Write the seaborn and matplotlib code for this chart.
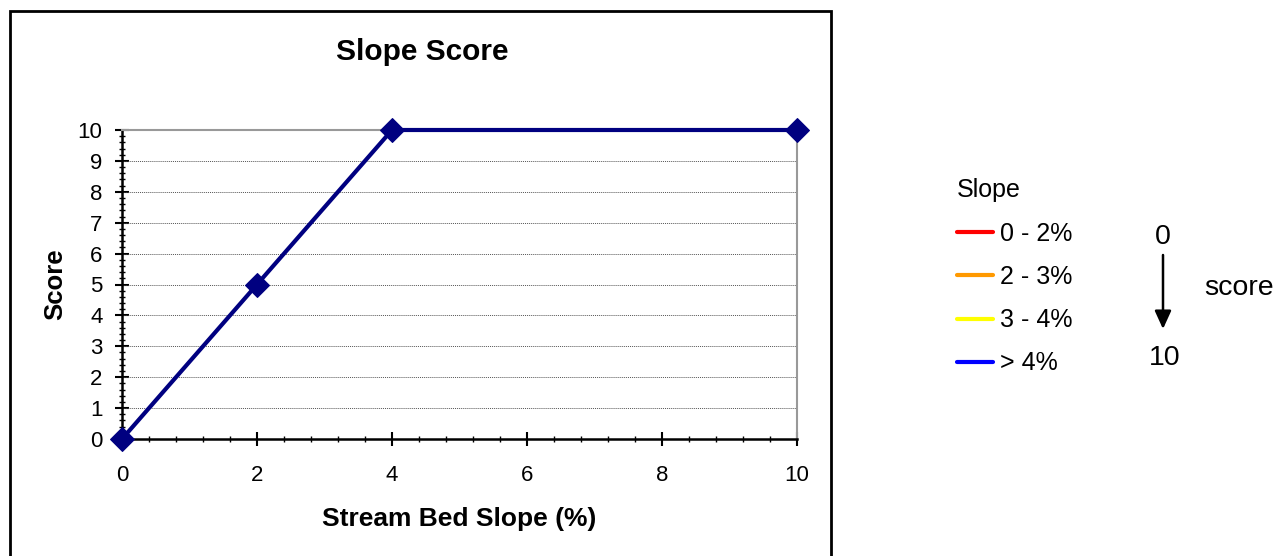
import matplotlib
matplotlib.use("Agg")
import matplotlib.pyplot as plt
import seaborn as sns
import pandas as pd
import numpy as np
from matplotlib.lines import Line2D
from matplotlib.patches import Rectangle
from matplotlib.ticker import MultipleLocator

# ---- data ----
slope_pct = [0, 2, 4, 10]
score = [0, 5, 10, 10]
legend_labels = ["0 - 2%", "2 - 3%", "3 - 4%", "> 4%"]
legend_colors = ["#FF0000", "#FF9900", "#FFFF00", "#0000FF"]
x_ticks = [0, 2, 4, 6, 8, 10]
y_ticks = list(range(0, 11))

sns.set_theme(style="white")
plt.rcParams['font.family'] = ['Liberation Sans', 'DejaVu Sans']
for k in ["text.color", "axes.labelcolor", "xtick.color", "ytick.color"]:
    plt.rcParams[k] = "black"

W, H = 1274, 556
fig = plt.figure(figsize=(W / 100, H / 100), dpi=100)
ax = fig.add_axes([122 / W, 1 - 439 / H, (797 - 122) / W, (439 - 130) / H])

df = pd.DataFrame({"slope": slope_pct, "score": score})
sns.lineplot(data=df, x="slope", y="score", ax=ax, color="#000080",
             linewidth=3, marker="D", markersize=12, markeredgecolor="#000080",
             clip_on=False, zorder=5)

ax.set_xlim(0, 10)
ax.set_ylim(0, 10)
ax.set_xticks(x_ticks)
ax.set_yticks(y_ticks)
ax.xaxis.set_minor_locator(MultipleLocator(0.4))
ax.yaxis.set_minor_locator(MultipleLocator(0.2))
ax.tick_params(axis="both", which="major", direction="inout", length=10, width=1.5,
               color="black", labelsize=16, bottom=True, left=True)
ax.tick_params(axis="both", which="minor", direction="inout", length=5, width=1,
               color="black", bottom=True, left=True)
ax.tick_params(axis="x", which="major", pad=14)
ax.tick_params(axis="y", which="major", pad=9)

for y in range(1, 10):
    ax.axhline(y, color="#555555", linestyle=(0, (1, 1)), linewidth=0.7, zorder=1)

for s in ["left", "bottom"]:
    ax.spines[s].set_color("black")
    ax.spines[s].set_linewidth(1.8)
for s in ["top", "right"]:
    ax.spines[s].set_color("#999999")
    ax.spines[s].set_linewidth(1.5)

ax.set_xlabel("Stream Bed Slope (%)", fontsize=19, fontweight="bold", labelpad=15)
ax.set_ylabel("Score", fontsize=18.5, fontweight="bold", labelpad=7.5)
fig.text(422 / W, 1 - 52 / H, "Slope Score", fontsize=21.5, fontweight="bold",
         ha="center", va="center")

# chart-area border
fig.patches.append(Rectangle((9.5 / W, -0.02), (831 - 9.5) / W, 1 - 11 / H + 0.02,
                             transform=fig.transFigure, fill=False,
                             edgecolor="black", linewidth=2))

# legend
handles = [Line2D([0], [0], color=c, linewidth=3) for c in legend_colors]
leg = fig.legend(handles, legend_labels, title="Slope", loc="upper left",
                 bbox_to_anchor=(934 / W, 1 - 156 / H), frameon=False,
                 fontsize=18, title_fontsize=18, handlelength=1.45,
                 handletextpad=0.28, labelspacing=0.77, alignment="left")

# score arrow
fig.text(1163 / W, 1 - 237 / H, "0", fontsize=20.5, ha="center", va="center")
fig.text(1165 / W, 1 - 358 / H, "10", fontsize=20.5, ha="center", va="center")
fig.text(1239 / W, 1 - 288 / H, "score", fontsize=20.5, ha="center", va="center")
ax.annotate("", xy=(1163 / W, 1 - 329 / H), xytext=(1163 / W, 1 - 255 / H),
            xycoords="figure fraction", textcoords="figure fraction",
            arrowprops=dict(arrowstyle="-|>,head_width=0.25,head_length=0.55",
                            mutation_scale=20, color="black", linewidth=1.8,
                            shrinkA=0, shrinkB=0))

fig.savefig("out.png", dpi=100)
